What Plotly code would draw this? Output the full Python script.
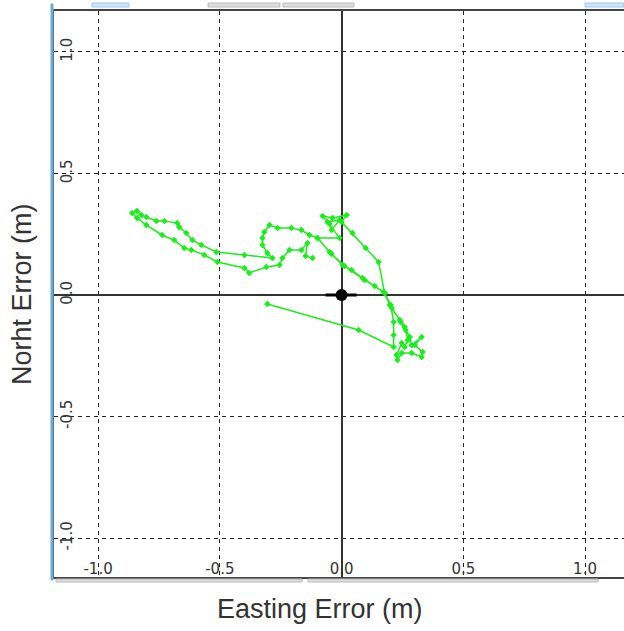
import plotly.graph_objects as go

# Green track (easting error, northing error) in metres
east_err = [-0.305, 0.070, 0.214,
            0.214, 0.214, 0.202, 0.177, 0.152, 0.099, 0.045, 0.000,
            0.021, -0.037, -0.078, -0.049, -0.041, -0.008, -0.058, -0.008,
            -0.099,
            -0.049, 0.004, 0.041, 0.086, 0.136, 0.177, 0.198, 0.239, 0.259, 0.280,
            0.288, 0.329, 0.300, 0.333, 0.329, 0.288, 0.247, 0.230, 0.226, 0.247, 0.259, 0.272, 0.263,
            0.243, 0.206, 0.173, 0.095, 0.012, -0.041, -0.099,
            -0.132, -0.165, -0.206, -0.263, -0.296, -0.317, -0.325, -0.325, -0.305, -0.284,
            -0.399, -0.514,
            -0.576, -0.613, -0.638, -0.667, -0.675, -0.728, -0.761, -0.802, -0.823, -0.840, -0.860,
            -0.840, -0.802, -0.737, -0.687, -0.646, -0.617, -0.564, -0.510, -0.399, -0.379,
            -0.309, -0.255, -0.243, -0.214, -0.165, -0.140, -0.148, -0.119]
north_err = [-0.037, -0.144, -0.214,
             -0.165, -0.111, -0.041, 0.008, 0.136, 0.193, 0.255, 0.300,
             0.329, 0.317, 0.325, 0.292, 0.267, 0.309, 0.300, 0.235,
             0.235,
             0.177, 0.123, 0.103, 0.070, 0.037, 0.008, -0.041, -0.103, -0.132, -0.173,
             -0.206, -0.173, -0.206, -0.235, -0.255, -0.239, -0.239, -0.267, -0.247, -0.198, -0.214, -0.185, -0.144,
             -0.111, -0.053, 0.012, 0.062, 0.119, 0.169, 0.235,
             0.247, 0.267, 0.276, 0.276, 0.288, 0.259, 0.235, 0.206, 0.173, 0.152,
             0.165, 0.177,
             0.206, 0.226, 0.255, 0.280, 0.296, 0.305, 0.305, 0.321, 0.329, 0.346, 0.337,
             0.317, 0.288, 0.247, 0.226, 0.193, 0.185, 0.165, 0.136, 0.111, 0.091,
             0.115, 0.123, 0.152, 0.185, 0.185, 0.214, 0.160, 0.152]

# Reference point and its bar
ref_x = [0.0]
ref_y = [0.0]
bar_x = [-0.066, 0.062]
bar_y = [0.0, 0.0]

tick_vals = [-1.0, -0.5, 0.0, 0.5, 1.0]
tick_text = ["-1.0", "-0.5", "0.0", "0.5", "1.0"]

x_title = "Easting Error (m)"
y_title = "Norht Error (m)"

W, H = 624, 631
L, R, T, B = 54, 0, 11, 54

fig = go.Figure()
fig.add_trace(go.Scatter(x=east_err, y=north_err, mode="lines+markers",
                         line=dict(color="#1aee1a", width=1.5),
                         marker=dict(color="#1aee1a", size=5, symbol="diamond"),
                         hoverinfo="skip", showlegend=False))
fig.add_trace(go.Scatter(x=bar_x, y=bar_y, mode="lines",
                         line=dict(color="#000000", width=3),
                         hoverinfo="skip", showlegend=False))
fig.add_trace(go.Scatter(x=ref_x, y=ref_y, mode="markers",
                         marker=dict(color="#000000", size=12, symbol="circle"),
                         hoverinfo="skip", showlegend=False))

axis_common = dict(
    tickvals=tick_vals, ticktext=tick_text,
    showgrid=True, gridcolor="#222222", gridwidth=1, griddash="4px,4px",
    zeroline=True, zerolinecolor="#333333", zerolinewidth=2,
    ticks="", ticklabelposition="inside",
    tickfont=dict(family="DejaVu Sans", size=15, color="#333333"),
    showline=True, linecolor="#444444", linewidth=2,
)

fig.update_layout(
    width=W, height=H,
    margin=dict(l=L, r=R, t=T, b=B),
    paper_bgcolor="white", plot_bgcolor="white",
    xaxis=dict(range=[-1.181, 1.160], mirror=True, **axis_common),
    yaxis=dict(range=[-1.1605, 1.1687], tickangle=-90, **axis_common),
    showlegend=False,
)

def px2paper_x(px):
    return (px - L) / (W - L - R)

def px2paper_y(py):
    return (H - B - py) / (H - T - B)

# axis titles
fig.add_annotation(text=x_title, xref="paper", yref="paper",
                   x=px2paper_x(320), y=px2paper_y(609), showarrow=False,
                   xanchor="center", yanchor="middle",
                   font=dict(family="Liberation Sans, Arial", size=27, color="#333333"))
fig.add_annotation(text=y_title, xref="paper", yref="paper",
                   x=px2paper_x(22), y=px2paper_y(294), showarrow=False,
                   textangle=-90, xanchor="center", yanchor="middle",
                   font=dict(family="Liberation Sans, Arial", size=27, color="#333333"))

# window decoration pieces seen in the screenshot
shapes = []
def rect(x0, y0, x1, y1, fill, line):
    shapes.append(dict(type="rect", xref="paper", yref="paper",
                       x0=px2paper_x(x0), x1=px2paper_x(x1),
                       y0=px2paper_y(y0), y1=px2paper_y(y1),
                       fillcolor=fill, line=dict(color=line, width=1), layer="above"))
rect(51, 4, 53, 580, "#6aa8e0", "#6aa8e0")
rect(92, 3, 129, 7, "#cfe5f9", "#9cc8ef")
rect(585, 3, 624, 7, "#cfe5f9", "#9cc8ef")
rect(208, 3, 280, 7, "#dddddd", "#bbbbbb")
rect(283, 3, 354, 7, "#dddddd", "#bbbbbb")
rect(56, 579, 302, 582, "#dddddd", "#bbbbbb")
rect(308, 579, 598, 582, "#dddddd", "#bbbbbb")
fig.update_layout(shapes=shapes)

fig.write_html("out.html", config={"displayModeBar": False},
               post_script="document.body.style.margin='0px';document.body.style.overflow='hidden';")
